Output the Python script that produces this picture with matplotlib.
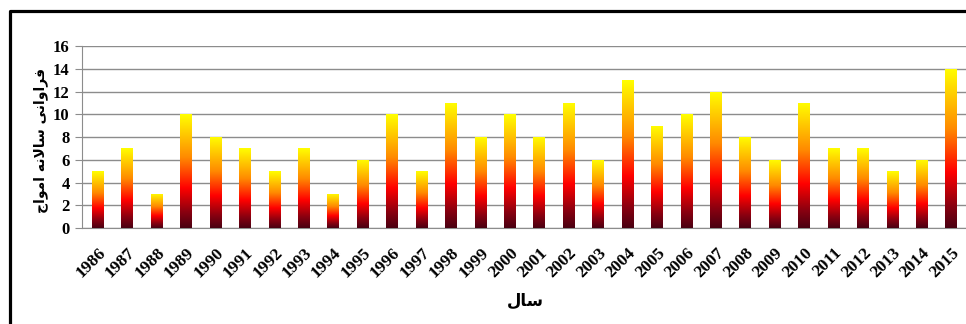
import numpy as np
import matplotlib
matplotlib.use("Agg")
import matplotlib.pyplot as plt
from matplotlib.colors import LinearSegmentedColormap
from matplotlib.lines import Line2D

years = [str(y) for y in range(1986, 2016)]
counts = [5, 7, 3, 10, 8, 7, 5, 7, 3, 6, 10, 5, 11, 8, 10, 8, 11, 6, 13, 9,
          10, 12, 8, 6, 11, 7, 7, 5, 6, 14]
y_ticks = [0, 2, 4, 6, 8, 10, 12, 14, 16]
x_title = "سال"
y_title = "فراوانی سالانه امواج"

# minimal Persian shaping (matplotlib has no complex text layout)
FORMS = {
    "ف": (0xFED1, 0xFED2, 0xFED3, 0xFED4),
    "ر": (0xFEAD, 0xFEAE, None, None),
    "ا": (0xFE8D, 0xFE8E, None, None),
    "و": (0xFEED, 0xFEEE, None, None),
    "ن": (0xFEE5, 0xFEE6, 0xFEE7, 0xFEE8),
    "ی": (0xFBFC, 0xFBFD, 0xFBFE, 0xFBFF),
    "س": (0xFEB1, 0xFEB2, 0xFEB3, 0xFEB4),
    "ل": (0xFEDD, 0xFEDE, 0xFEDF, 0xFEE0),
    "ه": (0xFEE9, 0xFEEA, 0xFEEB, 0xFEEC),
    "م": (0xFEE1, 0xFEE2, 0xFEE3, 0xFEE4),
    "ج": (0xFE9D, 0xFE9E, 0xFE9F, 0xFEA0),
    "LA": (0xFEFB, 0xFEFC, None, None),
}


def shape_word(word):
    chars = []
    i = 0
    while i < len(word):
        if word[i] == "ل" and i + 1 < len(word) and word[i + 1] == "ا":
            chars.append("LA")
            i += 2
        else:
            chars.append(word[i])
            i += 1
    out = []
    for k, c in enumerate(chars):
        f = FORMS[c]
        prev_joins = k > 0 and FORMS[chars[k - 1]][2] is not None
        next_exists = k + 1 < len(chars) and f[2] is not None
        if prev_joins and next_exists:
            cp = f[3]
        elif prev_joins:
            cp = f[1]
        elif next_exists:
            cp = f[2]
        else:
            cp = f[0]
        out.append(chr(cp))
    return "".join(reversed(out))


def shape(text):
    return " ".join(shape_word(w) for w in reversed(text.split()))


cmap = LinearSegmentedColormap.from_list(
    "fire", [(0.0, "#4a0012"), (0.14, "#8a0010"), (0.35, "#ff0000"),
             (0.62, "#ff8a00"), (1.0, "#ffff00")])

plt.rcParams["font.family"] = ["Liberation Serif", "DejaVu Sans"]

fig = plt.figure(figsize=(9.66, 3.24), dpi=100)
ax = fig.add_axes([0.0849, 0.296, 1 - 0.0849, 0.562])

x = np.arange(len(years))
bars = ax.bar(x, counts, width=0.4, color="none", edgecolor="none", zorder=3)
grad = np.linspace(0, 1, 512).reshape(-1, 1)
for b in bars:
    x0, w, h = b.get_x(), b.get_width(), b.get_height()
    im = ax.imshow(grad, cmap=cmap, origin="lower", aspect="auto",
                   extent=(x0, x0 + w, 0, h), zorder=3, interpolation="bilinear")
    im.set_clip_path(b)

ax.set_xlim(-0.54, 29.5)
ax.set_ylim(0, 16)
ax.set_yticks(y_ticks)
ax.set_yticklabels([str(t) for t in y_ticks], fontsize=12, fontweight="bold")
ax.set_xticks(x)
ax.set_xticklabels(years, rotation=45, ha="right", va="top",
                   rotation_mode="anchor", fontsize=12.5, fontweight="bold")
ax.yaxis.grid(True, color="#8c8c8c", linewidth=1.0, zorder=0)
ax.set_axisbelow(True)
for s in ["top", "right"]:
    ax.spines[s].set_visible(False)
ax.spines["left"].set_color("#8c8c8c")
ax.spines["bottom"].set_color("#8c8c8c")
ax.tick_params(axis="y", length=5, color="#8c8c8c", pad=4)
ax.tick_params(axis="x", length=0, pad=12)

ax.set_xlabel(shape(x_title), family=["DejaVu Sans"], fontweight="bold", fontsize=12)
ax.xaxis.set_label_coords(0.501, -0.352)
ax.set_ylabel(shape(y_title), family=["DejaVu Sans"], fontweight="bold", fontsize=10)
ax.yaxis.set_label_coords(-0.0385, 0.4835)

# frame lines of the original picture (left and top)
fig.add_artist(Line2D([9.5 / 966, 9.5 / 966, 1.0], [0.0, 1 - 10.5 / 324, 1 - 10.5 / 324],
                      transform=fig.transFigure, color="black", linewidth=2.3))

fig.savefig("out.png", dpi=100)
